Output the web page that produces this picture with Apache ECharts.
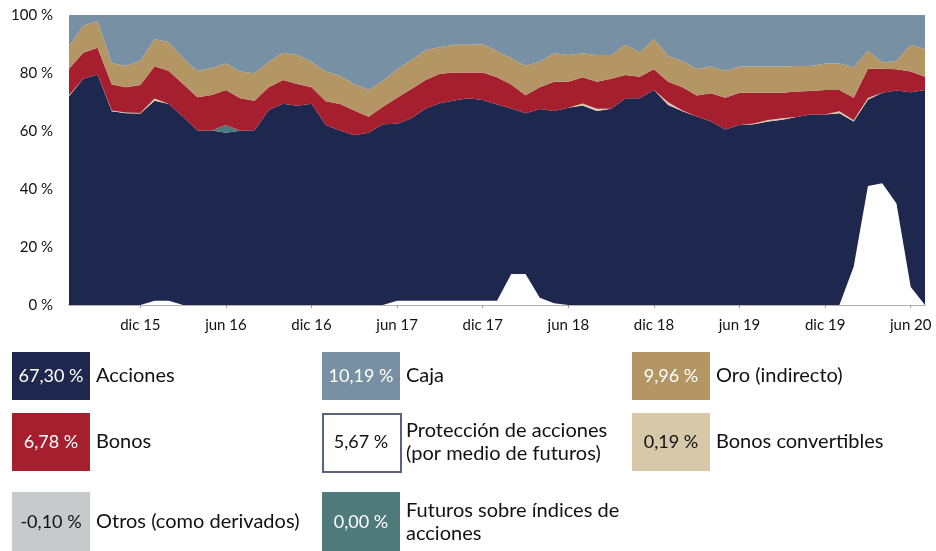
<!DOCTYPE html>
<html>
<head>
<meta charset="utf-8">
<script src="https://cdn.jsdelivr.net/npm/echarts@6/dist/echarts.min.js"></script>
<style>
html,body{margin:0;padding:0;background:#fff;}
#c{width:936px;height:551px;}
</style>
</head>
<body>
<div id="c"></div>
<script>
const categories = [
 'jul 15','ago 15','sep 15','oct 15','nov 15','dic 15',
 'ene 16','feb 16','mar 16','abr 16','may 16','jun 16','jul 16','ago 16','sep 16','oct 16','nov 16','dic 16',
 'ene 17','feb 17','mar 17','abr 17','may 17','jun 17','jul 17','ago 17','sep 17','oct 17','nov 17','dic 17',
 'ene 18','feb 18','mar 18','abr 18','may 18','jun 18','jul 18','ago 18','sep 18','oct 18','nov 18','dic 18',
 'ene 19','feb 19','mar 19','abr 19','may 19','jun 19','jul 19','ago 19','sep 19','oct 19','nov 19','dic 19',
 'ene 20','feb 20','mar 20','abr 20','may 20','jun 20','jul 20'
];
const acciones = [72.0,78.0,79.5,66.8,66.1,66.0,70.4,69.3,64.9,60.2,60.2,59.4,60.1,60.3,67.2,69.4,68.7,69.4,62.1,60.2,58.5,59.4,62.3,62.5,64.4,67.8,69.6,70.5,71.3,70.7,69.1,67.8,66.1,67.6,66.9,68.0,68.8,66.9,67.7,71.3,71.3,74.1,69.0,66.8,65.0,63.3,60.5,62.1,62.3,63.3,63.9,64.8,65.7,65.7,66.1,63.3,70.8,73.2,74.0,73.4,74.1];
const futuros = [0,0,0,0,0,0,0,0,0,0,0,2.7,0,0,0,0,0,0,0,0,0,0,0,0,0,0,0,0,0,0,0,0,0,0,0,0,0,0,0,0,0,0,0,0,0,0,0,0,0,0,0,0,0,0,0,0,0,0,0,0,0];
const bonosConv = [0.3,0,0,0.3,0.3,0.2,0.8,0,0,0,0,0,0,0,0,0,0,0,0,0,0,0,0,0,0,0,0,0,0,0,0,0,0,0,0,0,0.7,0.8,0,0,0,0,0.9,0.3,0,0,0,0,0.3,0.5,0.5,0,0,0,0.7,0.4,0.6,0,0,0,0];
const bonos = [9.2,9.0,9.2,8.9,8.7,9.7,11.1,11.4,11.3,11.4,12.2,12.0,11.2,10.1,7.9,8.2,7.5,5.7,8.2,9.1,8.6,5.5,6.1,9.0,10.1,9.8,10.1,9.7,8.9,9.5,9.4,8.2,6.2,7.5,10.1,9.0,9.0,9.3,10.3,8.0,7.4,7.2,7.1,8.0,7.2,9.7,11.0,11.1,10.6,9.4,8.8,8.8,8.1,8.4,7.3,7.8,10.1,8.3,7.3,7.1,4.6];
const oro = [7.7,9.3,9.2,7.4,7.4,8.3,9.3,10.0,8.9,9.1,9.3,9.2,9.2,9.5,8.8,9.4,10.0,8.8,10.2,9.7,9.1,9.2,8.9,9.8,10.0,10.3,9.2,9.5,9.5,9.7,9.1,9.1,10.2,8.8,9.8,9.2,8.3,9.2,8.2,10.4,8.4,10.3,8.9,9.0,9.2,9.2,9.2,9.0,9.0,9.0,9.0,8.8,8.6,9.2,9.2,10.5,6.2,2.1,2.8,9.2,9.5];
const caja = [10.8,3.7,2.1,16.6,17.5,15.8,8.4,9.3,14.9,19.3,18.3,16.7,19.5,20.1,16.1,13.0,13.8,16.1,19.5,21.0,23.8,25.9,22.7,18.7,15.5,12.1,11.1,10.3,10.3,10.1,12.4,14.9,17.5,16.1,13.2,13.8,13.2,13.8,13.8,10.3,12.9,8.4,14.1,15.9,18.6,17.8,19.3,17.8,17.8,17.8,17.8,17.6,17.6,16.7,16.7,18.0,12.3,16.4,15.9,10.3,11.8];
const proteccion = [0,0,0,0,0,0,1.5,1.5,0,0,0,0,0,0,0,0,0,0,0,0,0,0,0,1.5,1.5,1.5,1.5,1.5,1.5,1.5,1.5,10.7,10.7,2.5,0.6,0,0,0,0,0,0,0,0,0,0,0,0,0,0,0,0,0,0,0,0,13.2,41.0,42.0,35.0,6.2,0];
const yTicks = [0,20,40,60,80,100];

const legendNames = ['Acciones','Caja','Oro (indirecto)','Bonos','Protección de acciones\n(por medio de futuros)','Bonos convertibles','Otros (como derivados)','Futuros sobre índices de\nacciones'];
const legendValues = ['67,30 %','10,19 %','9,96 %','6,78 %','5,67 %','0,19 %','-0,10 %','0,00 %'];

const C = {
  acciones:'#1e274e', caja:'#7890a3', oro:'#b39664', bonos:'#a61f2e',
  prot:'#ffffff', conv:'#d6c8a8', otros:'#c8c9cb', futuros:'#4e7a7c'
};
const legendColors = [C.acciones,C.caja,C.oro,C.bonos,C.prot,C.conv,C.otros,C.futuros];
const legendTextColors = ['#fff','#fff','#fff','#fff','#111','#111','#111','#fff'];

const FONT = 'Lato, "Open Sans", sans-serif';

function area(name, data, color){
  return {name, type:'line', stack:'total', data, symbol:'none', showSymbol:false,
    lineStyle:{width:0}, areaStyle:{color, opacity:1}, itemStyle:{color}, silent:true};
}

const colX = [12, 322, 632];
const rowY = [352, 413, 492];
const rowH = [48, 58, 60];
const graphics = [];
legendNames.forEach((n,i)=>{
  const col = i % 3, row = Math.floor(i/3);
  const x = colX[col], y = rowY[row], h = rowH[row];
  const isProt = i === 4;
  graphics.push({type:'rect', left:x, top:y, shape:{width:78,height:h},
    style:{fill:legendColors[i], stroke:isProt?'#5b6280':null, lineWidth:isProt?2:0}});
  graphics.push({type:'text', x:x+39, y:y+h/2,
    style:{text:legendValues[i], fill:legendTextColors[i], font:'18px '+FONT, align:'center', verticalAlign:'middle'}});
  graphics.push({type:'text', x:x+84, y:y+h/2,
    style:{text:n, fill:'#111', font:'20px '+FONT, align:'left', verticalAlign:'middle', lineHeight:23}});
});

const chart = echarts.init(document.getElementById('c'), null, {renderer:'canvas'});
chart.setOption({
  animation:false,
  backgroundColor:'#fff',
  grid:{left:69, right:11, top:15, bottom:246, containLabel:false},
  xAxis:{type:'category', data:categories, boundaryGap:false,
    axisLine:{show:true, lineStyle:{color:'#9a9a9a', width:1.5}},
    axisTick:{show:true, length:3, lineStyle:{color:'#9a9a9a'},
      interval:(i,v)=>v.startsWith('dic')||v.startsWith('jun')},
    axisLabel:{color:'#111', fontSize:15, fontFamily:FONT, margin:13,
      interval:(i,v)=>v.startsWith('dic')||v.startsWith('jun')},
    splitLine:{show:false}},
  yAxis:{type:'value', min:yTicks[0], max:yTicks[yTicks.length-1], interval:20,
    axisLine:{show:false}, axisTick:{show:false}, splitLine:{show:false},
    axisLabel:{color:'#111', fontSize:15, fontFamily:FONT, margin:16, formatter:'{value} %'}},
  series:[
    area('Acciones', acciones, C.acciones),
    area('Futuros sobre índices de acciones', futuros, C.futuros),
    area('Bonos convertibles', bonosConv, C.conv),
    area('Bonos', bonos, C.bonos),
    area('Oro (indirecto)', oro, C.oro),
    area('Caja', caja, C.caja),
    {name:'Protección de acciones', type:'line', data:proteccion, symbol:'none', showSymbol:false, z:5,
      lineStyle:{width:0}, areaStyle:{color:'#ffffff', opacity:1}, silent:true}
  ],
  graphic:graphics
});
</script>
</body>
</html>
